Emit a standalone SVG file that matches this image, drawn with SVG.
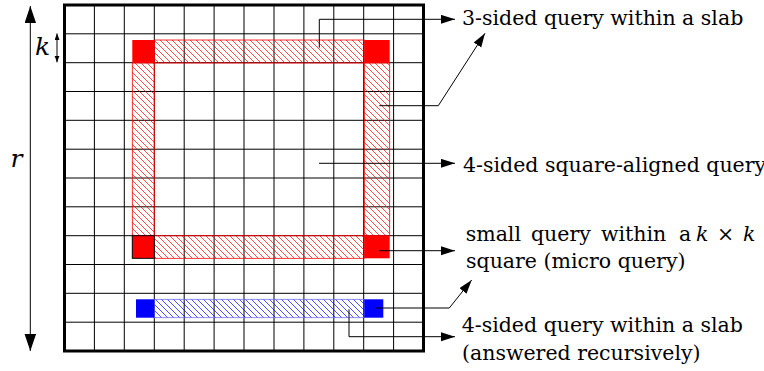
<svg xmlns="http://www.w3.org/2000/svg" width="764" height="371" viewBox="0 0 764 371">
<style>
.grid line{stroke:#000;stroke-width:1}
.conn{stroke:#000;stroke-width:1;fill:none}
</style>
<defs>
<pattern id="hatchR" patternUnits="userSpaceOnUse" width="6" height="6">
<path d="M0,0 L6,6 M-1,5 L1,7 M5,-1 L7,1" stroke="#ff0000" stroke-width="0.7"/>
</pattern>
<pattern id="hatchB" patternUnits="userSpaceOnUse" width="6" height="6">
<path d="M0,0 L6,6 M-1,5 L1,7 M5,-1 L7,1" stroke="#0000ff" stroke-width="0.7"/>
</pattern>
<marker id="ah" markerUnits="userSpaceOnUse" markerWidth="15" markerHeight="10" refX="14" refY="4.5" orient="auto">
<path d="M0,0 L14,4.5 L0,9 z" fill="#000"/>
</marker>
<marker id="ahBig" markerUnits="userSpaceOnUse" markerWidth="18" markerHeight="12" refX="17" refY="5.75" orient="auto-start-reverse">
<path d="M0,0 L17,5.75 L0,11.5 z" fill="#000"/>
</marker>
<marker id="ahSmall" markerUnits="userSpaceOnUse" markerWidth="7" markerHeight="6" refX="6.5" refY="2.5" orient="auto-start-reverse">
<path d="M0,0 L6.5,2.5 L0,5 z" fill="#000"/>
</marker>
</defs>

<g id="grid" class="grid">
<line x1="94.4" y1="5" x2="94.4" y2="351"/>
<line x1="124.3" y1="5" x2="124.3" y2="351"/>
<line x1="154.3" y1="5" x2="154.3" y2="351"/>
<line x1="184.2" y1="5" x2="184.2" y2="351"/>
<line x1="214.1" y1="5" x2="214.1" y2="351"/>
<line x1="244" y1="5" x2="244" y2="351"/>
<line x1="274" y1="5" x2="274" y2="351"/>
<line x1="303.9" y1="5" x2="303.9" y2="351"/>
<line x1="333.8" y1="5" x2="333.8" y2="351"/>
<line x1="363.7" y1="5" x2="363.7" y2="351"/>
<line x1="393.6" y1="5" x2="393.6" y2="351"/>
<line x1="64.5" y1="33.8" x2="423.5" y2="33.8"/>
<line x1="64.5" y1="62.7" x2="423.5" y2="62.7"/>
<line x1="64.5" y1="91.5" x2="423.5" y2="91.5"/>
<line x1="64.5" y1="120.3" x2="423.5" y2="120.3"/>
<line x1="64.5" y1="149.2" x2="423.5" y2="149.2"/>
<line x1="64.5" y1="178" x2="423.5" y2="178"/>
<line x1="64.5" y1="206.8" x2="423.5" y2="206.8"/>
<line x1="64.5" y1="235.7" x2="423.5" y2="235.7"/>
<line x1="64.5" y1="264.5" x2="423.5" y2="264.5"/>
<line x1="64.5" y1="293.3" x2="423.5" y2="293.3"/>
<line x1="64.5" y1="322.2" x2="423.5" y2="322.2"/>
</g>

<g id="square-aligned-query">
<rect x="154.3" y="40" width="210" height="23" fill="url(#hatchR)" stroke="#ff0000" stroke-width="0.8"/>
<rect x="154.3" y="235.7" width="210" height="22.6" fill="url(#hatchR)" stroke="#ff0000" stroke-width="0.8"/>
<rect x="132.3" y="63" width="22" height="172.7" fill="url(#hatchR)" stroke="#ff0000" stroke-width="0.8"/>
<rect x="364.3" y="63" width="25.4" height="172.7" fill="url(#hatchR)" stroke="#ff0000" stroke-width="0.8"/>
<rect x="132.3" y="40" width="22" height="23" fill="#ff0000"/>
<rect x="364.3" y="40" width="25.4" height="23" fill="#ff0000"/>
<rect x="132.3" y="235.7" width="22" height="22.6" fill="#ff0000" stroke="#000" stroke-width="1"/>
<rect x="364.3" y="235.7" width="25.4" height="22.6" fill="#ff0000"/>
</g>

<g id="slab-query">
<rect x="154.3" y="299.3" width="210" height="18.4" fill="url(#hatchB)" stroke="#7070ff" stroke-width="0.8"/>
<rect x="136" y="299.3" width="18.3" height="18.4" fill="#0000ff"/>
<rect x="364.3" y="299.3" width="19" height="18.4" fill="#0000ff"/>
</g>

<g id="border">
<rect x="64.5" y="5" width="359" height="346" fill="none" stroke="#000" stroke-width="3"/>
</g>

<g id="dimensions">
<line class="conn" x1="30.3" y1="6" x2="30.3" y2="351" marker-start="url(#ahBig)" marker-end="url(#ahBig)"/>
<line class="conn" x1="57" y1="33.5" x2="57" y2="62.3" marker-start="url(#ahSmall)" marker-end="url(#ahSmall)"/>
<text x="16.5" y="166.5" text-anchor="middle" font-family="DejaVu Serif" font-size="25" font-style="italic" fill="#000">r</text>
<text x="42.5" y="55" text-anchor="middle" font-family="DejaVu Serif" font-size="25" font-style="italic" fill="#000">k</text>
</g>

<g id="connectors">
<polyline class="conn" points="319.3,47.7 319.3,19.3 455,19.3" marker-end="url(#ah)"/>
<polyline class="conn" points="379.3,105.7 438.3,105.7 485,33.3" marker-end="url(#ah)"/>
<line class="conn" x1="319" y1="163.3" x2="455" y2="163.3" marker-end="url(#ah)"/>
<line class="conn" x1="379.3" y1="250.7" x2="455" y2="250.7" marker-end="url(#ah)"/>
<polyline class="conn" points="375.7,308 449.3,308 471.7,280" marker-end="url(#ah)"/>
<polyline class="conn" points="349,309.3 349,336.7 455,336.7" marker-end="url(#ah)"/>
</g>

<g id="labels" fill="#000">
<text x="462" y="25" font-family="DejaVu Serif" font-size="20.5">3-sided query within a slab</text>
<text x="463" y="171.7" font-family="DejaVu Serif" font-size="20.5">4-sided square-aligned query</text>
<text y="241" font-family="DejaVu Serif" font-size="20.5"><tspan x="465.7">small</tspan><tspan x="531">query</tspan><tspan x="601">within</tspan><tspan x="679">a</tspan><tspan x="696" font-style="italic">k</tspan><tspan x="717">×</tspan><tspan x="743" font-style="italic">k</tspan></text>
<text x="466" y="268.3" font-family="DejaVu Serif" font-size="20.5">square (micro query)</text>
<text x="461.7" y="331.7" font-family="DejaVu Serif" font-size="20.5">4-sided query within a slab</text>
<text x="462" y="360" font-family="DejaVu Serif" font-size="20.5">(answered recursively)</text>
</g>
</svg>
